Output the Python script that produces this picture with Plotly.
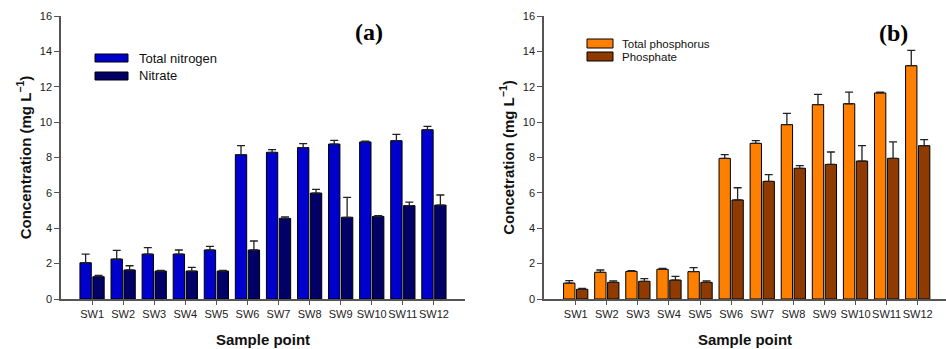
import plotly.graph_objects as go

# ---------------- data ----------------
categories = ["SW1", "SW2", "SW3", "SW4", "SW5", "SW6",
              "SW7", "SW8", "SW9", "SW10", "SW11", "SW12"]

total_nitrogen = [2.05, 2.26, 2.54, 2.54, 2.77, 8.16, 8.29, 8.56, 8.76, 8.88, 8.95, 9.57]
total_nitrogen_err = [0.49, 0.49, 0.36, 0.23, 0.21, 0.51, 0.15, 0.22, 0.21, 0.05, 0.36, 0.19]
nitrate = [1.26, 1.64, 1.58, 1.58, 1.58, 2.77, 4.56, 5.99, 4.62, 4.67, 5.28, 5.31]
nitrate_err = [0.08, 0.24, 0.04, 0.21, 0.04, 0.51, 0.08, 0.21, 1.13, 0.04, 0.20, 0.57]

total_phosphorus = [0.90, 1.51, 1.56, 1.68, 1.55, 7.95, 8.80, 9.86, 10.99, 11.04, 11.65, 13.19]
total_phosphorus_err = [0.14, 0.13, 0.04, 0.05, 0.22, 0.21, 0.15, 0.64, 0.58, 0.66, 0.05, 0.87]
phosphate = [0.55, 0.94, 1.00, 1.07, 0.94, 5.60, 6.65, 7.39, 7.61, 7.80, 7.95, 8.67]
phosphate_err = [0.05, 0.08, 0.15, 0.21, 0.08, 0.69, 0.38, 0.15, 0.70, 0.87, 0.93, 0.34]

y_ticks = [0, 2, 4, 6, 8, 10, 12, 14, 16]

# ---------------- style ----------------
W, H = 946, 349
ML, MR, MT, MB = 61, 0, 16, 50
PW, PH = W - ML - MR, H - MT - MB

C_TN = "#0000CC"
C_NO3 = "#000066"
C_TP = "#FF8000"
C_PO4 = "#8E3A00"
AXIS = "#555555"
FONT = "Arial, Liberation Sans, sans-serif"


def px_x(p):
    return (p - ML) / PW


def px_y(p):
    return (H - MB - p) / PH


def bar(name, y, err, color, xa, ya):
    return go.Bar(
        x=categories, y=y, name=name, xaxis=xa, yaxis=ya,
        marker=dict(color=color, line=dict(color="#000000", width=1)),
        error_y=dict(type="data", array=err, arrayminus=[0] * len(err), symmetric=False,
                     color="#222222", thickness=1.3, width=4),
        showlegend=False,
    )


fig = go.Figure()
fig.add_trace(bar("Total nitrogen", total_nitrogen, total_nitrogen_err, C_TN, "x", "y"))
fig.add_trace(bar("Nitrate", nitrate, nitrate_err, C_NO3, "x", "y"))
fig.add_trace(bar("Total phosphorus", total_phosphorus, total_phosphorus_err, C_TP, "x2", "y2"))
fig.add_trace(bar("Phosphate", phosphate, phosphate_err, C_PO4, "x2", "y2"))

xcommon = dict(
    type="category", showline=True, linecolor=AXIS, linewidth=1.5,
    ticks="outside", ticklen=4, tickcolor=AXIS, tickwidth=1, tickangle=0,
    tickfont=dict(family=FONT, size=11, color="#222222"),
    showgrid=False, zeroline=False, fixedrange=True,
    title=dict(text="<b>Sample point</b>", font=dict(family=FONT, size=15, color="#111111"),
               standoff=16),
)
ycommon = dict(
    range=[0, 16], tickvals=y_ticks, showline=True, linecolor=AXIS, linewidth=1.5,
    ticks="outside", ticklen=5, tickcolor=AXIS, tickwidth=1,
    tickfont=dict(family=FONT, size=11, color="#222222"),
    showgrid=False, zeroline=False, fixedrange=True, domain=[0, 1],
)

fig.update_layout(
    width=W, height=H,
    margin=dict(l=ML, r=MR, t=MT, b=MB),
    paper_bgcolor="white", plot_bgcolor="white",
    barmode="group", bargap=0.17, bargroupgap=0.12,
    xaxis=dict(xcommon, domain=[0, px_x(465)], range=[-1, 12], anchor="y"),
    yaxis=dict(ycommon, anchor="x",
               title=dict(text="<b>Concentration (mg L<sup>−1</sup>)</b>",
                          font=dict(family=FONT, size=15, color="#111111"), standoff=5)),
    xaxis2=dict(xcommon, domain=[px_x(544), 1], range=[-1.02, 11.91], anchor="y2"),
    yaxis2=dict(ycommon, anchor="x2",
                title=dict(text="<b>Concetration (mg L<sup>−1</sup>)</b>",
                           font=dict(family=FONT, size=15, color="#111111"), standoff=5)),
    showlegend=False,
)

# manual legends (wide swatches as in the reference)
legend_a = [("Total nitrogen", C_TN, 54, 62), ("Nitrate", C_NO3, 72, 80)]
for name, col, y0, y1 in legend_a:
    fig.add_shape(type="rect", xref="paper", yref="paper",
                  x0=px_x(95), x1=px_x(128), y0=px_y(y1), y1=px_y(y0),
                  fillcolor=col, line=dict(color="#000000", width=1))
    fig.add_annotation(text=name, xref="paper", yref="paper", x=px_x(137), y=px_y((y0 + y1) / 2),
                       xanchor="left", yanchor="middle", showarrow=False,
                       font=dict(family=FONT, size=13, color="#111111"))

legend_b = [("Total phosphorus", C_TP, 39, 48), ("Phosphate", C_PO4, 52, 61)]
for name, col, y0, y1 in legend_b:
    fig.add_shape(type="rect", xref="paper", yref="paper",
                  x0=px_x(587), x1=px_x(613), y0=px_y(y1), y1=px_y(y0),
                  fillcolor=col, line=dict(color="#000000", width=1))
    fig.add_annotation(text=name, xref="paper", yref="paper", x=px_x(620), y=px_y((y0 + y1) / 2),
                       xanchor="left", yanchor="middle", showarrow=False,
                       font=dict(family=FONT, size=11.5, color="#111111"))

# panel labels
for lab, cx, cy in [("(a)", 369, 32), ("(b)", 893, 33)]:
    fig.add_annotation(text="<b>" + lab + "</b>", xref="paper", yref="paper",
                       x=px_x(cx), y=px_y(cy), xanchor="center", yanchor="middle",
                       showarrow=False,
                       font=dict(family="Liberation Serif, DejaVu Serif, serif", size=24, color="#000000"))

fig.write_html("out.html",
               config={"displayModeBar": False},
               post_script="document.body.style.margin='0';document.body.style.padding='0';")
